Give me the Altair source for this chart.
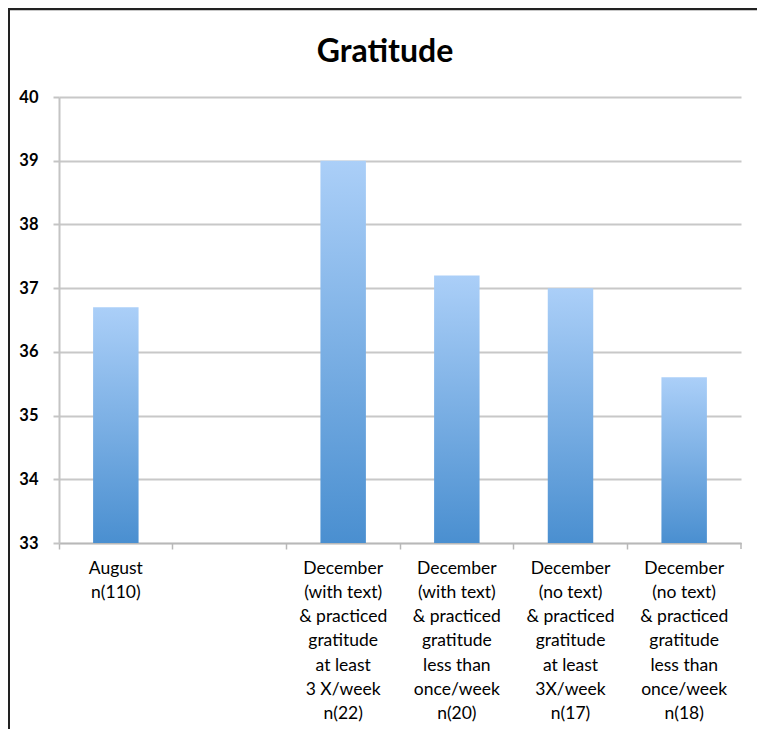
import altair as alt
import pandas as pd

title_text = ["Gratitude"]
categories = [
    "August|n(110)",
    " ",
    "December|(with text)|& practiced|gratitude|at least|3 X/week|n(22)",
    "December|(with text)|& practiced|gratitude|less than|once/week|n(20)",
    "December|(no text)|& practiced|gratitude|at least|3X/week|n(17)",
    "December|(no text)|& practiced|gratitude|less than|once/week|n(18)",
]
bar_categories = [categories[0], categories[2], categories[3], categories[4], categories[5]]
values = [36.7, 39.0, 37.2, 37.0, 35.6]
y_ticks = [33, 34, 35, 36, 37, 38, 39, 40]

W, H = 682, 446
FONT = "Lato"

df = pd.DataFrame({"cat": bar_categories, "val": values})
one = pd.DataFrame({"t": title_text})

grad = alt.Gradient(
    gradient="linear",
    stops=[alt.GradientStop(color="#abcff8", offset=0),
           alt.GradientStop(color="#4a8fd0", offset=1)],
    x1=1, x2=1, y1=0, y2=1,
)

x_enc = alt.X(
    "cat:N",
    scale=alt.Scale(domain=categories, paddingInner=0, paddingOuter=0),
    sort=categories,
    axis=alt.Axis(
        title=None,
        labelAngle=0,
        labelExpr="split(datum.label, '|')",
        labelLineHeight=24.3,
        labelFont=FONT,
        labelFontSize=17.5,
        labelColor="#000000",
        labelPadding=10,
        bandPosition=0,
        tickSize=6,
        tickColor="#b8b8b8",
        tickWidth=1.5,
        domainColor="#b8b8b8",
        domainWidth=1.5,
        grid=False,
    ),
)

y_enc = alt.Y(
    "val:Q",
    scale=alt.Scale(domain=[33, 40], zero=False, nice=False),
    axis=alt.Axis(
        title=None,
        values=y_ticks,
        format="d",
        labelFont=FONT,
        labelFontSize=16.5,
        labelFontWeight="bold",
        labelColor="#000000",
        labelPadding=15,
        tickSize=6,
        tickColor="#c4c4c4",
        tickWidth=2,
        domainColor="#c4c4c4",
        domainWidth=2,
        grid=True,
        gridColor="#c8c8c8",
        gridWidth=2,
    ),
)

bars = alt.Chart(df).mark_bar(
    color=grad, width=alt.RelativeBandSize(0.4)
).encode(x=x_enc, y=y_enc, y2=alt.datum(33))

end_tick = alt.Chart(one).mark_rule(color="#b8b8b8", strokeWidth=1.5).encode(
    x=alt.value(W), y=alt.value(H), y2=alt.value(H + 6)
)
left_border = alt.Chart(one).mark_rule(color="#222222", strokeWidth=2).encode(
    x=alt.value(-50), y=alt.value(-89), y2=alt.value(700)
)
top_border = alt.Chart(one).mark_rule(color="#222222", strokeWidth=2.5).encode(
    x=alt.value(-51), x2=alt.value(720), y=alt.value(-88)
)
title = alt.Chart(one).mark_text(
    font=FONT, fontSize=32, fontWeight="bold", color="#000000",
    align="center", baseline="alphabetic",
).encode(text="t:N", x=alt.value(W / 2 - 15), y=alt.value(-35))

chart = alt.layer(bars, end_tick, left_border, top_border, title).properties(
    width=W,
    height=H,
    autosize=alt.AutoSizeParams(type="none"),
    padding={"left": 51, "top": 89, "right": 16, "bottom": 186},
).configure_view(stroke=None)

chart.save("out.html", embed_options={"renderer": "svg", "actions": False})
